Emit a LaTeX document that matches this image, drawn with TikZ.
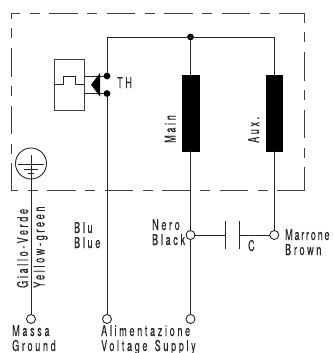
\documentclass[tikz,border=0pt]{standalone}
\usepackage{fontspec}
\newfontfamily\plotfont[FakeStretch=0.6,LetterSpace=18,FakeBold=0.3,WordSpace=1.4]{TeX Gyre Heros}
\newfontfamily\plotfontn[FakeStretch=0.6,LetterSpace=12,FakeBold=0.3]{TeX Gyre Heros}
\begin{document}
\begin{tikzpicture}[x=1pt,y=-1pt,
  wire/.style={line width=0.9pt,draw=black!85},
  housing/.style={line width=0.9pt,draw=black!75,dash pattern=on 28.5pt off 9.5pt on 10pt off 9.5pt},
  coil/.style={draw=black,fill=black,minimum width=16.5pt,minimum height=75.5pt,inner sep=0pt,outer sep=0pt},
  term/.style={circle,draw=black!85,fill=white,line width=0.9pt,minimum size=9pt,inner sep=0pt,outer sep=0pt},
  dotn/.style={circle,fill=black,minimum size=6.8pt,inner sep=0pt,outer sep=0pt},
  lab/.style={font=\plotfont\fontsize{15}{15}\selectfont,inner sep=0pt,anchor=base west,text=black!85},
  labv/.style={lab,rotate=90}]
\useasboundingbox (0,0) rectangle (332,353);
\draw[housing,dash phase=19.5pt] (11,13) -- (304.5,13);
\draw[housing,dash phase=18.5pt] (304.5,13) -- (304.5,190.6);
\draw[housing,dash phase=22.5pt] (11,13) -- (11,190.6);
\draw[housing,dash phase=21.5pt] (11,190.6) -- (304.5,190.6);
% named points
\node[coil] (main) at (190.5,113.3) {};
\node[coil] (aux) at (274.3,113.3) {};
\node[dotn] (top) at (190.5,37) {};
\coordinate (tl) at (107,37);
\coordinate (tr) at (274.3,37);
\node[dotn] (th1) at (107,76) {};
\node[dotn] (th2) at (107,93.5) {};
\node[term] (tb) at (107,319) {};
\node[term] (tm) at (190.5,319) {};
\node[term] (tn) at (190.5,235) {};
\node[term] (tc) at (274.3,235) {};
\node[term] (tg) at (31,319) {};
\coordinate (pl1a) at (225,221); \coordinate (pl1b) at (225,249);
\coordinate (pl2a) at (239.5,221); \coordinate (pl2b) at (239.5,249);
\coordinate (p1) at (225,235); \coordinate (p2) at (239.5,235);
% wires
\draw[wire] (th2) -- (tb);
\draw[wire] (th1) -- (tl) -- (tr) -- (aux.north);
\draw[wire] (top) -- (main.north);
\draw[wire] (main.south) -- (tn);
\draw[wire] (tn) -- (tm);
\draw[wire] (aux.south) -- (tc);
\draw[wire] (tn) -- (p1);
\draw[wire] (p2) -- (tc);
\draw[wire] (pl1a) -- (pl1b);
\draw[wire] (pl2a) -- (pl2b);
% thermal protector
\node[draw=black!75,line width=0.9pt,minimum width=29.5pt,minimum height=51.5pt,inner sep=0pt,outer sep=0pt] (box) at (69.2,84.8) {};
\draw[wire] (box.west) -- (63,84.8) -- (63,76) -- (75.5,76) -- (75.5,84.8) -- (box.east);
\draw[wire] (box.east |- th1) -- (th1);
\draw[wire] (box.east |- th2) -- (th2);
\fill[black] (91,84.8) -- (100,73) -- (100,96.5) -- cycle;
% earth
\node[circle,draw=black!85,line width=0.9pt,minimum size=31pt,inner sep=0pt,outer sep=0pt] (earth) at (31,163.5) {};
\draw[wire] (31,155) -- (tg);
\draw[wire] (17.5,164.5) -- (44,164.5);
\draw[wire] (24,169) -- (38,169);
\draw[wire] (28,173.5) -- (34,173.5);
% text
\node[lab] (tTH) at (117,88) {TH};
\node[labv] (tMain) at (175.5,143) {Main};
\node[labv] (tAux) at (259,143) {Aux.};
\node[labv] (tGi) at (28,288) {Giallo-Verde};
\node[labv] (tYe) at (44.5,288) {Yellow-green};
\node[lab] (tBlu) at (74,233) {Blu};
\node[lab] (tBlue) at (74,248) {Blue};
\node[lab] (tNe) at (152,230) {Nero};
\node[lab] (tBl) at (152,245) {Black};
\node[lab,font=\plotfontn\fontsize{15}{15}\selectfont] (tMa) at (285,240) {Marrone};
\node[lab] (tBr) at (285,255) {Brown};
\node[lab] (tC) at (248,251) {C};
\node[lab] (tMs) at (12,336) {Massa};
\node[lab] (tGr) at (12,351) {Ground};
\node[lab] (tAl) at (101,336) {Alimentazione};
\node[lab] (tVs) at (101,351) {Voltage Supply};
\end{tikzpicture}
\end{document}
